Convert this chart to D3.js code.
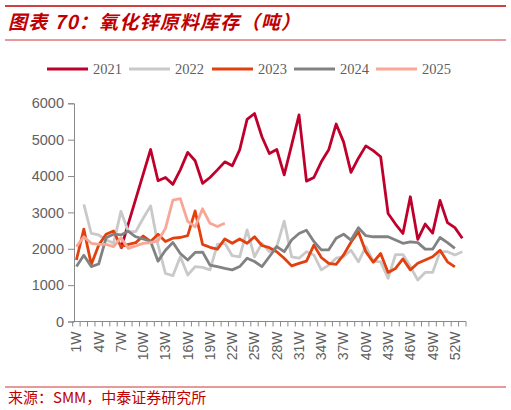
<!DOCTYPE html>
<html>
<head>
<meta charset="utf-8">
<script src="https://cdn.jsdelivr.net/npm/d3@7"></script>
<style>
  body { margin: 0; background: #fff; }
</style>
</head>
<body>
<div id="chartContainer"></div>
<script type="text/javascript">
// weekly zinc oxide raw material inventory (tonnes)
var weeks = d3.range(1, 54).map(function (d) { return d + "W"; });
var yTicks = [0, 1000, 2000, 3000, 4000, 5000, 6000];
var seriesNames = ["2021", "2022", "2023", "2024", "2025"];
var seriesColors = ["#c0002c", "#c9c9c9", "#e2400e", "#828282", "#f8a796"];

var inv2021 = [null, null, null, null, null, null, 2000, 2690, 3370, 4050,
  4730, 3870, 3960, 3770, 4170, 4650, 4420, 3800, 3960, 4170,
  4390, 4280, 4720, 5560, 5720, 5080, 4620, 4730, 4030, 4850,
  5680, 3860, 3960, 4390, 4720, 5430, 4940, 4100, 4490, 4830,
  4700, 4530, 2970, 2680, 2420, 3430, 2260, 2680, 2430, 3330,
  2720, 2580, 2290];
var inv2022 = [null, 3220, 2420, 2380, 2250, 2150, 3030, 2470, 2470, 2840,
  3180, 2100, 1320, 1260, 1780, 1280, 1510, 1490, 1420, 2120,
  2150, 1810, 1780, 2520, 1780, 2150, 1920, 2060, 2760, 1780,
  1740, 1920, 1830, 1420, 1550, 1740, 1780, 1960, 1640, 2060,
  1660, 1640, 1190, 1840, 1840, 1510, 1140, 1350, 1350, 1920,
  1920, 1830, 1920];
var inv2023 = [1690, 2540, 1570, 2100, 2400, 2490, 2060, 2120, 2170, 2350,
  2200, 2400, 2200, 2290, 2310, 2360, 3040, 2120, 2040, 1990,
  2270, 2150, 2270, 2150, 2330, 2090, 2030, 1920, 1740, 1530,
  1600, 1660, 2100, 1760, 1600, 1570, 1830, 2180, 2470, 1920,
  1630, 1870, 1350, 1460, 1720, 1420, 1600, 1690, 1780, 1960,
  1640, 1500];
var inv2024 = [1510, 1820, 1510, 1580, 2300, 2400, 2380, 2480, 2330, 2270,
  2200, 1660, 1960, 2170, 1870, 1690, 1900, 1910, 1550, 1510,
  1460, 1420, 1510, 1740, 1650, 1510, 1780, 2060, 1920, 2240,
  2420, 2510, 2200, 1970, 1970, 2290, 2400, 2240, 2580, 2360,
  2330, 2330, 2330, 2240, 2150, 2190, 2170, 1990, 1990, 2310,
  2170, 2010];
var inv2025 = [2060, 2330, 2150, 2120, 2120, 2060, 2300, 2010, 2080, 2150,
  2170, 2220, 2560, 3340, 3380, 2750, 2600, 3100, 2700, 2610,
  2700];

var seriesValues = [inv2021, inv2022, inv2023, inv2024, inv2025];

var width = 511, height = 410;
var axisGray = "#898989", textGray = "#5f5f5f", red = "#c00000";

var svg = d3.select("#chartContainer")
  .append("svg")
  .attr("width", width)
  .attr("height", height)
  .style("font-family", "'Liberation Sans', Arial, sans-serif");

// header rules and title
svg.append("line").attr("x1", 5).attr("x2", 506).attr("y1", 6).attr("y2", 6)
  .attr("stroke", red).attr("stroke-width", 1.6);
svg.append("line").attr("x1", 5).attr("x2", 506).attr("y1", 40).attr("y2", 40)
  .attr("stroke", red).attr("stroke-width", 0.8);
svg.append("text")
  .attr("x", 8).attr("y", 29)
  .attr("textLength", 292).attr("lengthAdjust", "spacing")
  .style("font-family", "'Noto Sans CJK SC', sans-serif")
  .style("font-size", "19px").style("font-weight", "bold").style("font-style", "italic")
  .attr("fill", red)
  .text("图表 70：氧化锌原料库存（吨）");

// scales
var x = d3.scaleBand().domain(weeks).range([72.7, 466]);
var y = d3.scaleLinear().domain([0, 6000]).range([321.5, 103.3]);

// y axis
var yAxis = svg.append("g")
  .attr("transform", "translate(74,0)")
  .call(d3.axisLeft(y).tickValues(yTicks).tickSize(6).tickPadding(4).tickFormat(d3.format("d")));
yAxis.select(".domain").attr("stroke", axisGray);
yAxis.selectAll(".tick line").attr("stroke", axisGray);
yAxis.selectAll(".tick text").attr("fill", textGray).style("font-size", "14.5px")
  .style("font-family", "'Liberation Sans', Arial, sans-serif");

// x axis: ticks on band boundaries, label every third week
var xAxis = svg.append("g").attr("transform", "translate(0," + y(0) + ")");
xAxis.append("line").attr("x1", x.range()[0]).attr("x2", x.range()[1])
  .attr("stroke", axisGray);
var bounds = weeks.map(function (w) { return x(w); }).concat([x.range()[1]]);
xAxis.selectAll(".xtick").data(bounds).enter().append("line")
  .attr("x1", function (d) { return d; }).attr("x2", function (d) { return d; })
  .attr("y1", 0).attr("y2", 5)
  .attr("stroke", axisGray);
xAxis.selectAll(".xlabel").data(weeks.filter(function (w, i) { return i % 3 === 0; }))
  .enter().append("text")
  .attr("transform", function (d) {
    return "translate(" + (x(d) + x.bandwidth() / 2) + ",10) rotate(-90)";
  })
  .attr("dy", "0.35em")
  .attr("text-anchor", "end")
  .attr("fill", textGray)
  .style("font-size", "14px")
  .text(function (d) { return d; });

// lines
var line = d3.line()
  .defined(function (d) { return d != null; })
  .x(function (d, i) { return x(weeks[i]) + x.bandwidth() / 2; })
  .y(function (d) { return y(d); });

seriesValues.forEach(function (vals, k) {
  svg.append("path")
    .datum(vals)
    .attr("fill", "none")
    .attr("stroke", seriesColors[k])
    .attr("stroke-width", 2.8)
    .attr("stroke-linejoin", "round")
    .attr("d", line);
});

// legend
var legendX = [47, 129, 212, 294, 376];
seriesNames.forEach(function (name, k) {
  var g = svg.append("g").attr("transform", "translate(" + legendX[k] + ",69)");
  g.append("line").attr("x1", 0).attr("x2", 41).attr("y1", 0).attr("y2", 0)
    .attr("stroke", seriesColors[k]).attr("stroke-width", 2.8);
  g.append("text").attr("x", 46).attr("y", 5)
    .attr("fill", textGray)
    .style("font-family", "'Liberation Serif', 'Times New Roman', serif")
    .style("font-size", "14.5px")
    .text(name);
});

// source line
svg.append("line").attr("x1", 5).attr("x2", 506).attr("y1", 387).attr("y2", 387)
  .attr("stroke", red).attr("stroke-width", 0.8);
svg.append("text")
  .attr("x", 8).attr("y", 403)
  .style("font-family", "'Noto Sans CJK SC', sans-serif")
  .style("font-size", "15px")
  .attr("fill", red)
  .text("来源：SMM，中泰证券研究所");
</script>
</body>
</html>
